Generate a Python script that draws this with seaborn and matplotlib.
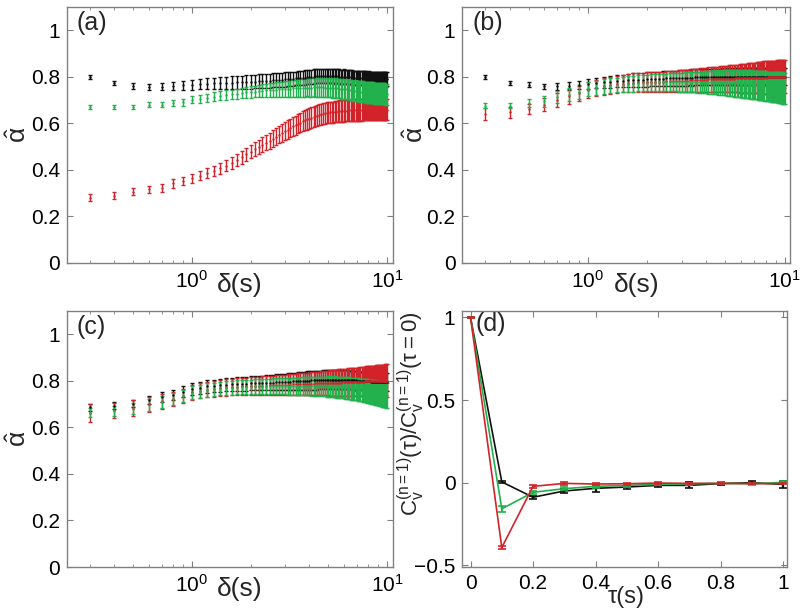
import matplotlib
matplotlib.use('Agg')
import matplotlib.pyplot as plt
import seaborn as sns

# ---------------------------
# DATA
# ---------------------------
delta = [0.3, 0.4, 0.5, 0.6, 0.7, 0.8, 0.9, 1.0,
         1.1, 1.2, 1.3, 1.4, 1.5, 1.6, 1.7, 1.8, 1.9, 2.0,
         2.1, 2.2, 2.3, 2.4, 2.5, 2.6, 2.7, 2.8, 2.9, 3.0,
         3.1, 3.2, 3.3, 3.4, 3.5, 3.6, 3.7, 3.8, 3.9, 4.0,
         4.1, 4.2, 4.3, 4.4, 4.5, 4.6, 4.7, 4.8, 4.9, 5.0,
         5.1, 5.2, 5.3, 5.4, 5.5, 5.6, 5.7, 5.8, 5.9, 6.0,
         6.1, 6.2, 6.3, 6.4, 6.5, 6.6, 6.7, 6.8, 6.9, 7.0,
         7.1, 7.2, 7.3, 7.4, 7.5, 7.6, 7.7, 7.8, 7.9, 8.0,
         8.1, 8.2, 8.3, 8.4, 8.5, 8.6, 8.7, 8.8, 8.9, 9.0,
         9.1, 9.2, 9.3, 9.4, 9.5, 9.6, 9.7, 9.8, 9.9, 10.0]

# panel (a)
a_black = [0.797, 0.771, 0.760, 0.757, 0.757, 0.760, 0.762, 0.764,
           0.767, 0.769, 0.771, 0.772, 0.773, 0.774, 0.775, 0.776, 0.777, 0.778,
           0.779, 0.780, 0.781, 0.782, 0.783, 0.784, 0.785, 0.786, 0.787, 0.788,
           0.789, 0.790, 0.791, 0.792, 0.793, 0.794, 0.795, 0.796, 0.797, 0.798,
           0.799, 0.800, 0.801, 0.801, 0.802, 0.802, 0.802, 0.802, 0.802, 0.802,
           0.802, 0.802, 0.802, 0.801, 0.801, 0.801, 0.800, 0.800, 0.800, 0.800,
           0.799, 0.799, 0.798, 0.798, 0.797, 0.797, 0.796, 0.796, 0.795, 0.795,
           0.795, 0.794, 0.794, 0.794, 0.793, 0.793, 0.793, 0.793, 0.792, 0.792,
           0.792, 0.792, 0.791, 0.791, 0.791, 0.791, 0.790, 0.790, 0.790, 0.790,
           0.790, 0.790, 0.789, 0.789, 0.789, 0.789, 0.789, 0.788, 0.788, 0.788]
a_black_err = [0.008, 0.009, 0.011, 0.013, 0.015, 0.017, 0.019, 0.021,
               0.022, 0.023, 0.024, 0.025, 0.026, 0.027, 0.027, 0.028, 0.028, 0.029,
               0.029, 0.030, 0.030, 0.031, 0.030, 0.030, 0.031, 0.030, 0.030, 0.031,
               0.030, 0.031, 0.030, 0.030, 0.031, 0.030, 0.030, 0.031, 0.030, 0.030,
               0.030, 0.031, 0.030, 0.030, 0.031, 0.030, 0.030, 0.031, 0.030, 0.030,
               0.031, 0.030, 0.030, 0.031, 0.030, 0.030, 0.031, 0.030, 0.030, 0.031,
               0.030, 0.030, 0.031, 0.030, 0.030, 0.031, 0.030, 0.030, 0.031, 0.030,
               0.030, 0.031, 0.030, 0.030, 0.031, 0.030, 0.030, 0.031, 0.030, 0.030,
               0.031, 0.030, 0.030, 0.031, 0.030, 0.030, 0.031, 0.030, 0.030, 0.031,
               0.030, 0.030, 0.031, 0.030, 0.030, 0.031, 0.030, 0.030, 0.031, 0.030]
a_red = [0.280, 0.289, 0.306, 0.316, 0.323, 0.342, 0.352, 0.363,
         0.375, 0.385, 0.396, 0.406, 0.418, 0.430, 0.442, 0.454, 0.466, 0.478,
         0.488, 0.498, 0.507, 0.516, 0.525, 0.534, 0.542, 0.550, 0.558, 0.566,
         0.573, 0.580, 0.586, 0.592, 0.598, 0.603, 0.608, 0.612, 0.616, 0.620,
         0.624, 0.627, 0.630, 0.633, 0.636, 0.638, 0.640, 0.642, 0.644, 0.645,
         0.646, 0.647, 0.648, 0.649, 0.650, 0.651, 0.652, 0.652, 0.653, 0.653,
         0.654, 0.654, 0.655, 0.655, 0.655, 0.656, 0.656, 0.656, 0.656, 0.657,
         0.657, 0.657, 0.657, 0.657, 0.658, 0.658, 0.658, 0.658, 0.658, 0.658,
         0.658, 0.658, 0.658, 0.658, 0.658, 0.658, 0.658, 0.658, 0.658, 0.658,
         0.658, 0.658, 0.658, 0.658, 0.658, 0.658, 0.658, 0.658, 0.658, 0.658]
a_red_err = [0.015, 0.015, 0.016, 0.016, 0.017, 0.018, 0.018, 0.019,
             0.020, 0.021, 0.022, 0.023, 0.024, 0.025, 0.026, 0.027, 0.028, 0.029,
             0.030, 0.031, 0.032, 0.033, 0.034, 0.035, 0.036, 0.037, 0.038, 0.039,
             0.040, 0.040, 0.041, 0.041, 0.042, 0.042, 0.043, 0.043, 0.043, 0.044,
             0.044, 0.044, 0.044, 0.045, 0.045, 0.045, 0.045, 0.045, 0.045, 0.045,
             0.045, 0.045, 0.045, 0.045, 0.045, 0.046, 0.046, 0.046, 0.046, 0.046,
             0.046, 0.046, 0.046, 0.046, 0.046, 0.046, 0.046, 0.046, 0.046, 0.046,
             0.046, 0.046, 0.046, 0.046, 0.046, 0.046, 0.046, 0.046, 0.046, 0.046,
             0.046, 0.046, 0.046, 0.046, 0.046, 0.046, 0.046, 0.046, 0.046, 0.046,
             0.046, 0.046, 0.046, 0.046, 0.046, 0.046, 0.046, 0.046, 0.046, 0.046]
a_green = [0.671, 0.671, 0.669, 0.679, 0.680, 0.686, 0.689, 0.700,
           0.704, 0.710, 0.714, 0.718, 0.721, 0.724, 0.727, 0.730, 0.732, 0.734,
           0.736, 0.738, 0.740, 0.741, 0.742, 0.743, 0.744, 0.745, 0.746, 0.747,
           0.748, 0.749, 0.750, 0.750, 0.751, 0.751, 0.752, 0.752, 0.753, 0.753,
           0.753, 0.754, 0.754, 0.754, 0.754, 0.754, 0.754, 0.753, 0.753, 0.753,
           0.752, 0.752, 0.751, 0.751, 0.750, 0.750, 0.749, 0.749, 0.748, 0.748,
           0.747, 0.746, 0.745, 0.744, 0.743, 0.742, 0.741, 0.740, 0.740, 0.739,
           0.738, 0.737, 0.736, 0.736, 0.735, 0.734, 0.734, 0.733, 0.733, 0.732,
           0.732, 0.731, 0.731, 0.730, 0.730, 0.729, 0.729, 0.729, 0.728, 0.728,
           0.728, 0.727, 0.727, 0.727, 0.726, 0.726, 0.726, 0.725, 0.725, 0.725]
a_green_err = [0.009, 0.009, 0.010, 0.011, 0.012, 0.013, 0.014, 0.015,
               0.016, 0.017, 0.018, 0.019, 0.020, 0.020, 0.021, 0.022, 0.023, 0.024,
               0.025, 0.026, 0.027, 0.028, 0.029, 0.030, 0.031, 0.032, 0.033, 0.034,
               0.035, 0.035, 0.036, 0.036, 0.037, 0.037, 0.038, 0.038, 0.038, 0.039,
               0.039, 0.039, 0.040, 0.040, 0.040, 0.040, 0.041, 0.041, 0.041, 0.041,
               0.041, 0.042, 0.042, 0.042, 0.042, 0.042, 0.042, 0.043, 0.043, 0.043,
               0.043, 0.043, 0.043, 0.043, 0.044, 0.044, 0.044, 0.044, 0.044, 0.044,
               0.044, 0.044, 0.044, 0.044, 0.045, 0.045, 0.045, 0.045, 0.045, 0.045,
               0.045, 0.045, 0.045, 0.045, 0.045, 0.045, 0.045, 0.045, 0.045, 0.045,
               0.045, 0.045, 0.045, 0.045, 0.045, 0.045, 0.045, 0.045, 0.045, 0.045]

# panel (b)
b_black = [0.797, 0.772, 0.765, 0.758, 0.758, 0.760, 0.764, 0.768,
           0.772, 0.775, 0.778, 0.780, 0.782, 0.784, 0.785, 0.786, 0.787, 0.788,
           0.789, 0.790, 0.790, 0.791, 0.792, 0.792, 0.793, 0.793, 0.794, 0.794,
           0.795, 0.795, 0.796, 0.796, 0.797, 0.797, 0.797, 0.798, 0.798, 0.798,
           0.798, 0.798, 0.799, 0.799, 0.799, 0.799, 0.799, 0.800, 0.800, 0.800,
           0.800, 0.800, 0.800, 0.800, 0.800, 0.800, 0.800, 0.800, 0.800, 0.800,
           0.800, 0.800, 0.800, 0.800, 0.800, 0.800, 0.800, 0.800, 0.800, 0.800,
           0.800, 0.800, 0.800, 0.800, 0.800, 0.800, 0.800, 0.800, 0.800, 0.800,
           0.800, 0.800, 0.800, 0.800, 0.800, 0.800, 0.800, 0.800, 0.800, 0.800,
           0.800, 0.800, 0.800, 0.800, 0.800, 0.800, 0.800, 0.800, 0.800, 0.800]
b_black_err = [0.008, 0.009, 0.010, 0.012, 0.014, 0.016, 0.018, 0.020,
               0.022, 0.024, 0.025, 0.026, 0.027, 0.028, 0.029, 0.030, 0.030, 0.031,
               0.031, 0.032, 0.032, 0.032, 0.033, 0.033, 0.033, 0.033, 0.034, 0.034,
               0.034, 0.034, 0.034, 0.035, 0.035, 0.035, 0.035, 0.035, 0.035, 0.035,
               0.035, 0.035, 0.035, 0.035, 0.035, 0.035, 0.035, 0.035, 0.035, 0.035,
               0.035, 0.035, 0.035, 0.035, 0.035, 0.035, 0.035, 0.035, 0.035, 0.035,
               0.035, 0.035, 0.035, 0.035, 0.035, 0.035, 0.035, 0.035, 0.035, 0.035,
               0.035, 0.035, 0.035, 0.035, 0.035, 0.035, 0.035, 0.035, 0.035, 0.035,
               0.035, 0.035, 0.035, 0.035, 0.035, 0.035, 0.035, 0.035, 0.035, 0.035,
               0.035, 0.035, 0.035, 0.035, 0.035, 0.035, 0.035, 0.035, 0.035, 0.035]
b_red = [0.640, 0.646, 0.660, 0.680, 0.700, 0.715, 0.728, 0.742,
         0.752, 0.758, 0.763, 0.767, 0.770, 0.772, 0.774, 0.775, 0.776, 0.777,
         0.778, 0.778, 0.779, 0.779, 0.780, 0.780, 0.781, 0.781, 0.782, 0.782,
         0.783, 0.783, 0.784, 0.784, 0.785, 0.785, 0.786, 0.786, 0.787, 0.787,
         0.788, 0.788, 0.788, 0.789, 0.789, 0.789, 0.790, 0.790, 0.790, 0.790,
         0.790, 0.791, 0.791, 0.791, 0.791, 0.792, 0.792, 0.792, 0.792, 0.792,
         0.792, 0.793, 0.793, 0.793, 0.793, 0.794, 0.794, 0.794, 0.794, 0.794,
         0.794, 0.795, 0.795, 0.795, 0.795, 0.796, 0.796, 0.796, 0.796, 0.796,
         0.796, 0.797, 0.797, 0.797, 0.797, 0.798, 0.798, 0.798, 0.798, 0.798,
         0.798, 0.799, 0.799, 0.799, 0.799, 0.800, 0.800, 0.800, 0.800, 0.800]
b_red_err = [0.027, 0.022, 0.022, 0.028, 0.030, 0.031, 0.032, 0.033,
             0.034, 0.035, 0.036, 0.037, 0.038, 0.039, 0.040, 0.040, 0.041, 0.041,
             0.042, 0.042, 0.043, 0.043, 0.044, 0.044, 0.045, 0.045, 0.046, 0.046,
             0.047, 0.047, 0.048, 0.048, 0.049, 0.049, 0.050, 0.050, 0.051, 0.051,
             0.052, 0.052, 0.053, 0.053, 0.054, 0.054, 0.055, 0.055, 0.056, 0.056,
             0.057, 0.057, 0.058, 0.058, 0.059, 0.059, 0.060, 0.060, 0.061, 0.061,
             0.062, 0.062, 0.063, 0.063, 0.064, 0.064, 0.065, 0.065, 0.066, 0.066,
             0.066, 0.067, 0.067, 0.067, 0.068, 0.068, 0.068, 0.069, 0.069, 0.069,
             0.069, 0.070, 0.070, 0.070, 0.070, 0.071, 0.071, 0.071, 0.071, 0.071,
             0.071, 0.072, 0.072, 0.072, 0.072, 0.072, 0.072, 0.072, 0.072, 0.072]
b_green = [0.675, 0.676, 0.686, 0.694, 0.712, 0.723, 0.732, 0.746,
           0.752, 0.757, 0.761, 0.764, 0.766, 0.768, 0.770, 0.771, 0.772, 0.773,
           0.774, 0.774, 0.775, 0.775, 0.775, 0.776, 0.776, 0.776, 0.776, 0.776,
           0.776, 0.776, 0.776, 0.776, 0.776, 0.776, 0.776, 0.776, 0.776, 0.776,
           0.776, 0.776, 0.776, 0.776, 0.776, 0.775, 0.775, 0.775, 0.775, 0.775,
           0.774, 0.774, 0.773, 0.773, 0.772, 0.772, 0.771, 0.771, 0.770, 0.770,
           0.769, 0.769, 0.768, 0.768, 0.767, 0.767, 0.766, 0.766, 0.765, 0.765,
           0.764, 0.764, 0.763, 0.763, 0.762, 0.762, 0.761, 0.761, 0.760, 0.760,
           0.759, 0.759, 0.758, 0.758, 0.757, 0.757, 0.756, 0.756, 0.755, 0.755,
           0.754, 0.754, 0.753, 0.753, 0.752, 0.752, 0.751, 0.751, 0.750, 0.750]
b_green_err = [0.011, 0.012, 0.017, 0.024, 0.027, 0.029, 0.030, 0.031,
               0.031, 0.031, 0.032, 0.032, 0.033, 0.033, 0.034, 0.034, 0.035, 0.035,
               0.036, 0.036, 0.037, 0.037, 0.038, 0.038, 0.039, 0.039, 0.040, 0.040,
               0.042, 0.042, 0.043, 0.044, 0.044, 0.045, 0.046, 0.046, 0.047, 0.048,
               0.050, 0.050, 0.051, 0.051, 0.052, 0.052, 0.053, 0.054, 0.054, 0.055,
               0.056, 0.056, 0.057, 0.057, 0.058, 0.058, 0.058, 0.059, 0.059, 0.059,
               0.059, 0.059, 0.060, 0.060, 0.060, 0.060, 0.061, 0.061, 0.061, 0.061,
               0.061, 0.061, 0.062, 0.062, 0.062, 0.062, 0.063, 0.063, 0.063, 0.063,
               0.063, 0.063, 0.064, 0.064, 0.064, 0.064, 0.065, 0.065, 0.065, 0.065,
               0.065, 0.065, 0.066, 0.066, 0.066, 0.066, 0.067, 0.067, 0.067, 0.067]

# panel (c)
c_black = [0.685, 0.692, 0.702, 0.718, 0.730, 0.740, 0.752, 0.765,
           0.770, 0.775, 0.778, 0.780, 0.782, 0.784, 0.785, 0.786, 0.787, 0.788,
           0.789, 0.789, 0.790, 0.791, 0.791, 0.792, 0.793, 0.793, 0.794, 0.795,
           0.796, 0.796, 0.797, 0.797, 0.798, 0.798, 0.799, 0.799, 0.800, 0.800,
           0.801, 0.801, 0.802, 0.802, 0.803, 0.803, 0.804, 0.804, 0.805, 0.805,
           0.805, 0.805, 0.805, 0.805, 0.805, 0.805, 0.805, 0.805, 0.805, 0.805,
           0.805, 0.804, 0.804, 0.803, 0.803, 0.802, 0.802, 0.801, 0.801, 0.800,
           0.800, 0.800, 0.799, 0.799, 0.799, 0.798, 0.798, 0.798, 0.797, 0.797,
           0.797, 0.797, 0.796, 0.796, 0.796, 0.796, 0.796, 0.795, 0.795, 0.795,
           0.795, 0.795, 0.795, 0.795, 0.795, 0.795, 0.795, 0.795, 0.795, 0.795]
c_black_err = [0.015, 0.015, 0.016, 0.018, 0.020, 0.022, 0.024, 0.025,
               0.026, 0.026, 0.027, 0.027, 0.028, 0.028, 0.029, 0.029, 0.030, 0.030,
               0.031, 0.031, 0.032, 0.032, 0.033, 0.033, 0.034, 0.034, 0.035, 0.035,
               0.036, 0.036, 0.037, 0.037, 0.038, 0.038, 0.039, 0.039, 0.040, 0.040,
               0.040, 0.040, 0.040, 0.040, 0.040, 0.040, 0.040, 0.040, 0.040, 0.040,
               0.040, 0.040, 0.040, 0.040, 0.040, 0.040, 0.040, 0.040, 0.040, 0.040,
               0.040, 0.040, 0.040, 0.040, 0.040, 0.040, 0.040, 0.040, 0.040, 0.040,
               0.040, 0.040, 0.040, 0.040, 0.040, 0.040, 0.040, 0.040, 0.040, 0.040,
               0.040, 0.040, 0.040, 0.040, 0.040, 0.040, 0.040, 0.040, 0.040, 0.040,
               0.040, 0.040, 0.040, 0.040, 0.040, 0.040, 0.040, 0.040, 0.040, 0.040]
c_red = [0.660, 0.672, 0.682, 0.698, 0.712, 0.722, 0.735, 0.750,
         0.757, 0.762, 0.766, 0.769, 0.771, 0.773, 0.774, 0.775, 0.776, 0.777,
         0.778, 0.778, 0.779, 0.779, 0.780, 0.780, 0.781, 0.781, 0.782, 0.782,
         0.783, 0.783, 0.784, 0.784, 0.785, 0.785, 0.785, 0.786, 0.786, 0.786,
         0.787, 0.787, 0.788, 0.788, 0.788, 0.789, 0.789, 0.789, 0.790, 0.790,
         0.790, 0.790, 0.791, 0.791, 0.791, 0.792, 0.792, 0.792, 0.793, 0.793,
         0.793, 0.793, 0.794, 0.794, 0.794, 0.794, 0.795, 0.795, 0.795, 0.795,
         0.795, 0.795, 0.796, 0.796, 0.796, 0.796, 0.797, 0.797, 0.797, 0.797,
         0.797, 0.797, 0.798, 0.798, 0.798, 0.798, 0.799, 0.799, 0.799, 0.799,
         0.799, 0.799, 0.799, 0.800, 0.800, 0.800, 0.800, 0.800, 0.800, 0.800]
c_red_err = [0.038, 0.032, 0.034, 0.034, 0.032, 0.030, 0.030, 0.032,
             0.033, 0.033, 0.034, 0.034, 0.035, 0.035, 0.036, 0.036, 0.037, 0.038,
             0.039, 0.039, 0.040, 0.040, 0.041, 0.041, 0.042, 0.042, 0.043, 0.043,
             0.044, 0.044, 0.045, 0.045, 0.046, 0.046, 0.047, 0.047, 0.048, 0.048,
             0.049, 0.049, 0.050, 0.050, 0.051, 0.051, 0.052, 0.052, 0.053, 0.053,
             0.054, 0.054, 0.055, 0.055, 0.056, 0.056, 0.057, 0.057, 0.058, 0.058,
             0.058, 0.059, 0.059, 0.059, 0.060, 0.060, 0.060, 0.061, 0.061, 0.061,
             0.061, 0.062, 0.062, 0.062, 0.063, 0.063, 0.063, 0.064, 0.064, 0.064,
             0.064, 0.065, 0.065, 0.065, 0.066, 0.066, 0.066, 0.067, 0.067, 0.067,
             0.067, 0.068, 0.068, 0.068, 0.069, 0.069, 0.069, 0.070, 0.070, 0.070]
c_green = [0.662, 0.670, 0.680, 0.696, 0.710, 0.722, 0.735, 0.748,
           0.755, 0.760, 0.763, 0.766, 0.768, 0.770, 0.771, 0.772, 0.773, 0.774,
           0.775, 0.775, 0.775, 0.775, 0.776, 0.776, 0.776, 0.776, 0.776, 0.776,
           0.776, 0.776, 0.776, 0.776, 0.776, 0.776, 0.776, 0.776, 0.776, 0.776,
           0.776, 0.776, 0.776, 0.776, 0.776, 0.775, 0.775, 0.775, 0.775, 0.775,
           0.774, 0.774, 0.773, 0.773, 0.772, 0.772, 0.771, 0.771, 0.770, 0.770,
           0.769, 0.768, 0.768, 0.767, 0.766, 0.766, 0.765, 0.764, 0.764, 0.763,
           0.762, 0.761, 0.760, 0.760, 0.759, 0.758, 0.757, 0.757, 0.756, 0.755,
           0.754, 0.753, 0.752, 0.752, 0.751, 0.750, 0.749, 0.748, 0.747, 0.746,
           0.745, 0.744, 0.743, 0.742, 0.741, 0.741, 0.740, 0.739, 0.738, 0.737]
c_green_err = [0.020, 0.022, 0.024, 0.025, 0.026, 0.026, 0.027, 0.027,
               0.028, 0.028, 0.029, 0.029, 0.030, 0.030, 0.030, 0.031, 0.031, 0.031,
               0.032, 0.032, 0.033, 0.033, 0.033, 0.034, 0.034, 0.034, 0.035, 0.035,
               0.036, 0.036, 0.036, 0.037, 0.037, 0.038, 0.038, 0.038, 0.039, 0.039,
               0.040, 0.040, 0.041, 0.041, 0.041, 0.042, 0.042, 0.042, 0.043, 0.043,
               0.044, 0.044, 0.044, 0.045, 0.045, 0.045, 0.045, 0.046, 0.046, 0.046,
               0.046, 0.046, 0.047, 0.047, 0.047, 0.047, 0.047, 0.048, 0.048, 0.048,
               0.048, 0.048, 0.049, 0.049, 0.049, 0.049, 0.049, 0.050, 0.050, 0.050,
               0.050, 0.050, 0.051, 0.051, 0.051, 0.051, 0.052, 0.052, 0.052, 0.052,
               0.052, 0.053, 0.053, 0.053, 0.053, 0.054, 0.054, 0.054, 0.055, 0.055]

# panel (d)
tau = [0.0, 0.1, 0.2, 0.3, 0.4, 0.5, 0.6, 0.7, 0.8, 0.9, 1.0]
d_black = [1.0, 0.005, -0.088, -0.050, -0.034, -0.026, -0.016, -0.016, -0.005, 0.000, -0.010]
d_black_err = [0.002, 0.008, 0.010, 0.012, 0.020, 0.015, 0.012, 0.018, 0.008, 0.010, 0.020]
d_green = [1.0, -0.158, -0.058, -0.036, -0.022, -0.016, -0.010, -0.006, -0.004, -0.006, 0.002]
d_green_err = [0.002, 0.020, 0.008, 0.008, 0.008, 0.008, 0.006, 0.006, 0.006, 0.006, 0.006]
d_red = [1.0, -0.392, -0.022, -0.004, -0.008, -0.006, -0.002, -0.004, -0.004, -0.006, -0.005]
d_red_err = [0.002, 0.008, 0.010, 0.008, 0.006, 0.006, 0.008, 0.004, 0.004, 0.004, 0.004]

BLACK = '#111111'
RED = '#d2232a'
GREEN = '#22b14c'
FRAME = '#808080'

# ---------------------------
# STYLE
# ---------------------------
sns.set_theme(style='ticks')
plt.rcParams['font.family'] = ['Liberation Sans', 'DejaVu Sans']
plt.rcParams['mathtext.fontset'] = 'custom'
plt.rcParams['mathtext.rm'] = 'Liberation Sans'
plt.rcParams['mathtext.it'] = 'Liberation Sans:italic'
plt.rcParams['mathtext.sf'] = 'Liberation Sans'

fig = plt.figure(figsize=(8, 6.13), dpi=100)
boxes = {'a': [0.084, 0.571, 0.407, 0.418],
         'b': [0.578, 0.571, 0.410, 0.418],
         'c': [0.084, 0.075, 0.407, 0.418],
         'd': [0.578, 0.075, 0.406, 0.418]}


def frame(ax):
    for sp in ax.spines.values():
        sp.set_color(FRAME)
        sp.set_linewidth(1.0)
    ax.tick_params(which='both', direction='in', top=True, right=True,
                   color=FRAME, labelcolor='black', labelsize=15, pad=5)
    ax.tick_params(which='major', length=4.5, width=0.8)
    ax.tick_params(which='minor', length=2.5, width=0.6)


def alpha_panel(ax, series, letter, label_x, ylab_x):
    for y, err, col in series:
        ax.errorbar(delta, y, yerr=err, fmt='none', ecolor=col,
                    elinewidth=1.0, capsize=1.5, capthick=1.0)
        sns.scatterplot(x=delta, y=y, color=col, s=3, linewidth=0,
                        ax=ax, legend=False, zorder=3)
    ax.set_xscale('log')
    ax.set_xlim(0.23, 10.7)
    ax.set_ylim(0, 1.1)
    ax.set_yticks([0, 0.2, 0.4, 0.6, 0.8, 1.0])
    ax.set_yticklabels(['0', '0.2', '0.4', '0.6', '0.8', '1'])
    ax.set_xlabel('δ(s)', fontsize=19)
    ax.xaxis.set_label_coords(label_x, -0.04)
    ax.set_ylabel(r'$\hat{\mathrm{\alpha}}$', fontsize=19)
    ax.yaxis.set_label_coords(ylab_x, 0.5)
    ax.text(0.03, 0.985, '(' + letter + ')', transform=ax.transAxes,
            ha='left', va='top', fontsize=18)
    frame(ax)


ax_a = fig.add_axes(boxes['a'])
alpha_panel(ax_a, [(a_black, a_black_err, BLACK), (a_red, a_red_err, RED),
                   (a_green, a_green_err, GREEN)], 'a', 0.53, -0.11)

ax_b = fig.add_axes(boxes['b'])
alpha_panel(ax_b, [(b_black, b_black_err, BLACK), (b_red, b_red_err, RED),
                   (b_green, b_green_err, GREEN)], 'b', 0.53, -0.105)

ax_c = fig.add_axes(boxes['c'])
alpha_panel(ax_c, [(c_black, c_black_err, BLACK), (c_red, c_red_err, RED),
                   (c_green, c_green_err, GREEN)], 'c', 0.53, -0.11)

# --- panel (d): normalised velocity autocorrelation ---
ax_d = fig.add_axes(boxes['d'])
for y, err, col in [(d_black, d_black_err, BLACK), (d_green, d_green_err, GREEN),
                    (d_red, d_red_err, RED)]:
    sns.lineplot(x=tau, y=y, color=col, linewidth=1.2, ax=ax_d)
    ax_d.errorbar(tau, y, yerr=err, fmt='none', ecolor=col,
                  elinewidth=1.6, capsize=2.8, capthick=1.2)
ax_d.set_xlim(-0.026, 1.013)
ax_d.set_ylim(-0.51, 1.04)
ax_d.set_xticks([0, 0.2, 0.4, 0.6, 0.8, 1.0])
ax_d.set_xticklabels(['0', '0.2', '0.4', '0.6', '0.8', '1'])
ax_d.set_yticks([-0.5, 0, 0.5, 1])
ax_d.set_yticklabels(['\u22120.5', '0', '0.5', '1'])
ax_d.set_xlabel('τ(s)', fontsize=17)
ax_d.xaxis.set_label_coords(0.505, -0.075)
ax_d.set_ylabel(r'$\mathregular{C_v^{(n=1)}(\tau)/C_v^{(n=1)}(\tau=0)}$', fontsize=16)
ax_d.yaxis.set_label_coords(-0.11, 0.6)
ax_d.text(0.04, 0.995, '(d)', transform=ax_d.transAxes,
          ha='left', va='top', fontsize=18)
frame(ax_d)

fig.savefig('out.png', dpi=100)
